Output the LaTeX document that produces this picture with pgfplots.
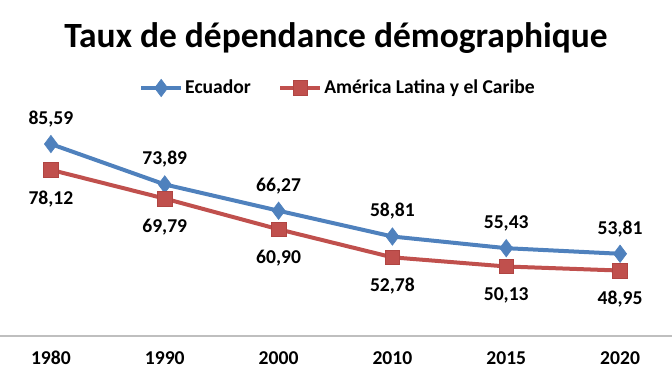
\documentclass[border=0pt]{standalone}
\usepackage{fontspec}
\setmainfont{Carlito}
\usepackage{pgfplots}
\pgfplotsset{compat=1.18}
\definecolor{eblue}{HTML}{4F81BD}
\definecolor{ered}{HTML}{C0504D}
\definecolor{ereddark}{HTML}{B04542}
\definecolor{axgray}{HTML}{BFBFBF}
\begin{document}
\begin{tikzpicture}[x=1pt,y=1pt]
\begin{axis}[
  scale only axis,
  width=512.25pt, height=155.4pt,
  xmin=-0.5, xmax=5.5, ymin=30, ymax=90,
  axis x line*=bottom, axis y line=none,
  x axis line style={draw=axgray, line width=1.1pt},
  xtick={0,1,2,3,4,5},
  xticklabels={1980,1990,2000,2010,2015,2020},
  xtick style={draw=none},
  ytick=\empty,
  xticklabel style={font=\fontsize{14.7}{17}\selectfont\bfseries, anchor=base, inner sep=0pt, yshift=-21.5pt},
  clip=false,
  legend style={at={(rel axis cs:0.5037,1.197)}, anchor=center, draw=none, fill=none,
    legend columns=2, font=\fontsize{14.7}{17}\selectfont\bfseries,
    /tikz/every even column/.append style={column sep=19pt},
    nodes={inner sep=1.5pt}},
  legend image code/.code={\draw[mark repeat=2,mark phase=2,#1] plot coordinates {(0pt,0pt) (15pt,0pt) (30pt,0pt)};},
  nodes near coords={\pgfmathprintnumber[fixed,fixed zerofill,precision=2,use comma,assume math mode=true]{\pgfplotspointmeta}},
  every node near coord/.append style={font=\fontsize{14.7}{17}\selectfont\bfseries, text=black},
]
\addplot[color=eblue, line width=3pt, mark=diamond*, mark size=6.5pt, mark options={fill=eblue, draw=eblue, line width=0.5pt},
  nodes near coords style={anchor=base, yshift=14.75pt}]
  coordinates {(0,85.59) (1,73.89) (2,66.27) (3,58.81) (4,55.43) (5,53.81)};
\addlegendentry{Ecuador}
\addplot[color=ered, line width=3pt, mark=square*, mark size=5.5pt, mark options={fill=ered, draw=ereddark, line width=0.5pt},
  nodes near coords style={anchor=base, yshift=-25.75pt}]
  coordinates {(0,78.12) (1,69.79) (2,60.90) (3,52.78) (4,50.13) (5,48.95)};
\addlegendentry{América Latina y el Caribe}
\coordinate (ax0) at (rel axis cs:0,0);
\end{axis}
\coordinate (P0) at ([shift={(4.5pt,-23.25pt)}]ax0);
\node[font=\fontsize{26.6}{31}\selectfont\bfseries, anchor=base, inner sep=0pt] at ([shift={(252pt,239.25pt)}]P0) {Taux de dépendance démographique};
\pgfresetboundingbox
\useasboundingbox (P0) rectangle ([shift={(504pt,275.25pt)}]P0);
\end{tikzpicture}
\end{document}
